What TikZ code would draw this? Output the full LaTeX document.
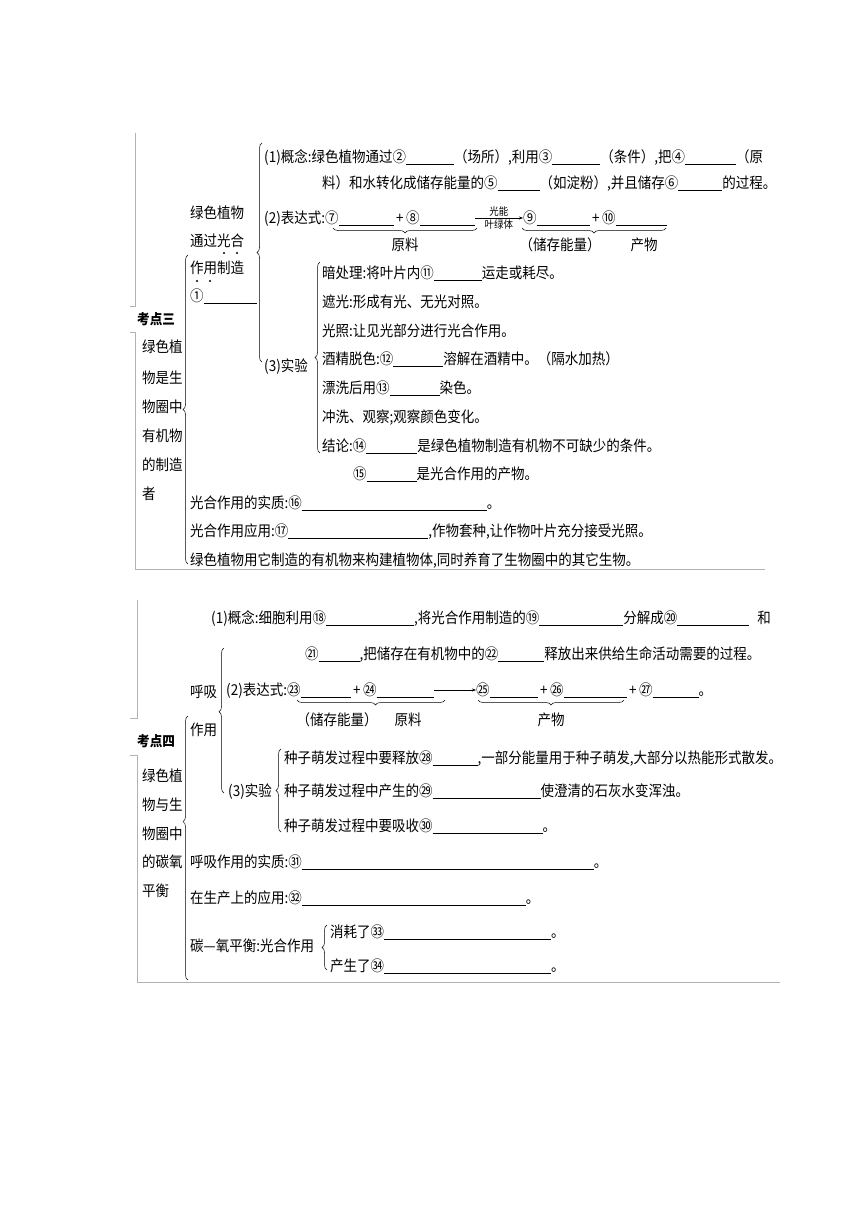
\documentclass[tikz,border=0pt]{standalone}
\usepackage{fontspec}
\setmainfont{Noto Sans CJK SC}[FakeStretch=0.9]
\usetikzlibrary{decorations.pathreplacing,arrows.meta}
\newcommand{\blank}[1]{\rule[-2pt]{#1pt}{0.5pt}}

\begin{document}
\begin{tikzpicture}[x=1pt,y=-1pt,font=\fontsize{15}{18}\selectfont,
  txt/.style={anchor=west,inner sep=0pt,text height=12.5pt,text depth=1pt},
  lbl/.style={inner sep=0pt,text height=12.5pt,text depth=1pt},
  small/.style={inner sep=1.5pt,font=\fontsize{10.5}{11}\selectfont},
  frame/.style={draw=black!30,line width=0.6pt},
  brc/.style={decorate,decoration={brace,amplitude=5pt,aspect=#1},line width=0.5pt},
  brc/.default=0.5,
  arr/.style={-{Stealth[length=4pt,width=3pt]},line width=0.5pt}]
\useasboundingbox (0,0) rectangle (860,1216);
% Kaodian san
\draw[frame] (130,306) -- (135,306) -- (135,133);
\draw[frame] (130,332) -- (135,332) -- (135,569) -- (765,569);
\node[txt,font=\fontsize{14}{16}\selectfont\bfseries] (kd3) at (137,319) {考点三};
\node[txt] (t3a) at (142,347) {绿色植};
\node[txt] (t3b) at (142,378) {物是生};
\node[txt] (t3c) at (142,407) {物圈中};
\node[txt] (t3d) at (142,436) {有机物};
\node[txt] (t3e) at (142,465) {的制造};
\node[txt] (t3f) at (142,494) {者};
\draw[brc] (188,564) -- (188,255);
\node[txt] (ps1) at (190,213) {绿色植物};
\node[txt] (ps2) at (190,241) {通过光合};
\node[txt] (ps3) at (190,268) {作用制造};
\node[txt] (ps4) at (190,296) {①\blank{53}};
\fill (224,253) circle (1.2) (237,253) circle (1.2) (197,281) circle (1.2) (210,281) circle (1.2);
\draw[brc] (262,362) -- (262,143);
\node[txt] (gn1) at (264,157) {(1)概念:绿色植物通过②\blank{48}（场所）,利用③\blank{48}（条件）,把④\blank{51}（原};
\node[txt] (gn2) at (322,183) {料）和水转化成储存能量的⑤\blank{42}（如淀粉）,并且储存⑥\blank{44}的过程。};
\node[txt] (eqa) at (264,218) {(2)表达式:⑦\blank{55}\,+\,⑧\blank{55}};
\node[txt] (eqb) at (523,218) {⑨\blank{53}\,+\,⑩\blank{51}};
\draw[arr] (eqa) -- (eqb) node[midway,above,small] {光能} node[midway,below,small] {叶绿体};
\draw[brc] (477,228) -- (333,228);
\draw[brc] (666,228) -- (522,228);
\node[lbl] (yl1) at (405,245) {原料};
\node[lbl] (cn1) at (560,245) {（储存能量）};
\node[lbl] (cw1) at (644,245) {产物};
\node[txt] (sy1) at (264,366) {(3)实验};
\draw[brc] (320,453) -- (320,262);
\node[txt] (s1) at (322,273) {暗处理:将叶片内⑪\blank{48}运走或耗尽。};
\node[txt] (s2) at (322,302) {遮光:形成有光、无光对照。};
\node[txt] (s3) at (322,331) {光照:让见光部分进行光合作用。};
\node[txt] (s4) at (322,359) {酒精脱色:⑫\blank{50}溶解在酒精中。（隔水加热）};
\node[txt] (s5) at (322,388) {漂洗后用⑬\blank{50}染色。};
\node[txt] (s6) at (322,417) {冲洗、观察;观察颜色变化。};
\node[txt] (s7) at (322,446) {结论:⑭\blank{51}是绿色植物制造有机物不可缺少的条件。};
\node[txt] (s8) at (353,474) {⑮\blank{50}是光合作用的产物。};
\node[txt] (gs1) at (190,503) {光合作用的实质:⑯\blank{185}。};
\node[txt] (gs2) at (190,531) {光合作用应用:⑰\blank{140},作物套种,让作物叶片充分接受光照。};
\node[txt] (gs3) at (190,560) {绿色植物用它制造的有机物来构建植物体,同时养育了生物圈中的其它生物。};
% Kaodian si
\draw[frame] (130,718) -- (137,718) -- (137,600);
\draw[frame] (130,755) -- (137,755) -- (137,982) -- (780,982);
\node[txt,font=\fontsize{14}{16}\selectfont\bfseries] (kd4) at (137,741) {考点四};
\node[txt] (t4a) at (142,776) {绿色植};
\node[txt] (t4b) at (142,805) {物与生};
\node[txt] (t4c) at (142,834) {物圈中};
\node[txt] (t4d) at (142,862) {的碳氧};
\node[txt] (t4e) at (142,891) {平衡};
\draw[brc=0.6] (188,980) -- (188,716);
\node[txt] (hx1) at (190,692) {呼吸};
\node[txt] (hx2) at (190,730) {作用};
\draw[brc=0.56] (224,793) -- (224,648);
\node[txt] (hn1) at (211,618) {(1)概念:细胞利用⑱\blank{88},将光合作用制造的⑲\blank{84}分解成⑳\blank{72}\hspace{8pt}和};
\node[txt] (hn2) at (305,654) {㉑\blank{41},把储存在有机物中的㉒\blank{46}释放出来供给生命活动需要的过程。};
\node[txt] (hqa) at (226,690) {(2)表达式:㉓\blank{50}\,+\,㉔\blank{57}};
\node[txt] (hqb) at (476,690) {㉕\blank{48}\,+\,㉖\blank{63}\,+\,㉗\blank{46}。};
\draw[arr] (hqa) -- (hqb);
\draw[brc=0.47] (445,700) -- (297,700);
\draw[brc] (624,700) -- (478,700);
\node[lbl] (cn2) at (337,720) {（储存能量）};
\node[lbl] (yl2) at (408,720) {原料};
\node[lbl] (cw2) at (551,720) {产物};
\node[txt] (sy2) at (228,791) {(3)实验};
\draw[brc] (281,832) -- (281,749);
\node[txt] (z1) at (284,758) {种子萌发过程中要释放㉘\blank{45},一部分能量用于种子萌发,大部分以热能形式散发。};
\node[txt] (z2) at (284,791) {种子萌发过程中产生的㉙\blank{108}使澄清的石灰水变浑浊。};
\node[txt] (z3) at (284,826) {种子萌发过程中要吸收㉚\blank{110}。};
\node[txt] (hs1) at (190,862) {呼吸作用的实质:㉛\blank{292}。};
\node[txt] (hs2) at (190,898) {在生产上的应用:㉜\blank{224}。};
\node[txt] (ty) at (190,946) {碳—氧平衡:光合作用};
\draw[brc] (327,970) -- (327,925);
\node[txt] (ty1) at (330,932) {消耗了㉝\blank{167}。};
\node[txt] (ty2) at (330,966) {产生了㉞\blank{167}。};
\end{tikzpicture}
\end{document}
